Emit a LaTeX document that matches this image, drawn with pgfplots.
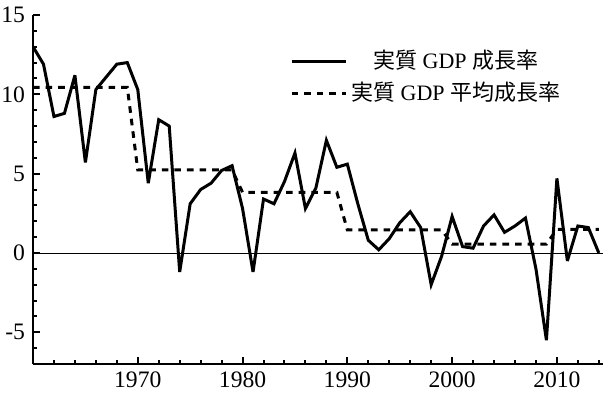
\documentclass[border=0pt]{standalone}
\usepackage{pgfplots}
\pgfplotsset{compat=1.18}
\usepackage{fontspec}
\setmainfont{Liberation Serif}
\newfontfamily\cjk{Noto Sans CJK JP}
\begin{document}
\fontsize{11.5bp}{13bp}\selectfont
\begin{tikzpicture}
\begin{axis}[
  scale only axis=true,
  width=285bp, height=174.5bp,
  xmin=1960, xmax=2014.4,
  ymin=-7, ymax=15,
  axis lines=left,
  axis line style={-, line width=1.4bp},
  tick align=inside,
  xtick={1970,1980,1990,2000,2010},
  minor xtick={1962,1964,...,2014},
  ytick={-5,0,5,10,15},
  minor ytick={-7,-6,...,15},
  major tick length=3.5bp,
  minor tick length=2bp,
  every tick/.style={black, line width=1bp},
  /pgf/number format/assume math mode=true,
  /pgf/number format/1000 sep={},
  tick label style={font=\fontsize{11.8bp}{13bp}\selectfont},
  legend style={draw=none, fill=none, at={(rel axis cs:0.44,0.8195)}, anchor=west,
    font=\fontsize{11bp}{13bp}\selectfont,
    nodes={text height=9bp, text depth=2bp, inner ysep=2.5bp, inner xsep=2bp}},
  legend cell align=center,
  legend image code/.code={\draw[#1] (0bp,0bp) -- (27bp,0bp);},
]
\coordinate (sw) at (rel axis cs:0,0);
\coordinate (ne) at (rel axis cs:1,1);
\draw[black, line width=0.45bp] (axis cs:1960,0) -- (axis cs:2014.4,0);
\addplot[black, line width=1.5bp, line join=miter, miter limit=4] coordinates {
(1960,13.0) (1961,11.9) (1962,8.6) (1963,8.8) (1964,11.2) (1965,5.7) (1966,10.3)
(1967,11.1) (1968,11.9) (1969,12.0) (1970,10.3) (1971,4.4) (1972,8.4) (1973,8.0)
(1974,-1.2) (1975,3.1) (1976,4.0) (1977,4.4) (1978,5.2) (1979,5.5) (1980,2.8)
(1981,-1.2) (1982,3.4) (1983,3.1) (1984,4.5) (1985,6.3) (1986,2.8) (1987,4.1)
(1988,7.1) (1989,5.4) (1990,5.6) (1991,3.1) (1992,0.8) (1993,0.2) (1994,0.9)
(1995,1.9) (1996,2.6) (1997,1.6) (1998,-2.0) (1999,-0.2) (2000,2.3) (2001,0.4)
(2002,0.3) (2003,1.7) (2004,2.4) (2005,1.3) (2006,1.7) (2007,2.2) (2008,-1.0)
(2009,-5.5) (2010,4.7) (2011,-0.5) (2012,1.7) (2013,1.6) (2014,0.0)
};
\addlegendentry{{\cjk 実質} GDP {\cjk 成長率}}
\addplot[black, line width=1.5bp, dash pattern=on 3.3bp off 3bp] coordinates {
(1960,10.44) (1961,10.44) (1962,10.44) (1963,10.44) (1964,10.44) (1965,10.44)
(1966,10.44) (1967,10.44) (1968,10.44) (1969,10.44)
(1970,5.23) (1971,5.23) (1972,5.23) (1973,5.23) (1974,5.23) (1975,5.23)
(1976,5.23) (1977,5.23) (1978,5.23) (1979,5.23)
(1980,3.82) (1981,3.82) (1982,3.82) (1983,3.82) (1984,3.82) (1985,3.82)
(1986,3.82) (1987,3.82) (1988,3.82) (1989,3.82)
(1990,1.45) (1991,1.45) (1992,1.45) (1993,1.45) (1994,1.45) (1995,1.45)
(1996,1.45) (1997,1.45) (1998,1.45) (1999,1.45)
(2000,0.56) (2001,0.56) (2002,0.56) (2003,0.56) (2004,0.56) (2005,0.56)
(2006,0.56) (2007,0.56) (2008,0.56) (2009,0.56)
(2010,1.49) (2011,1.49) (2012,1.49) (2013,1.49) (2014,1.49)
};
\addlegendentry{{\cjk 実質} GDP {\cjk 平均成長率}}
\end{axis}
\pgfresetboundingbox
\path ([shift={(-16.5bp,-16bp)}]sw) rectangle ([shift={(0bp,7.5bp)}]ne);
\end{tikzpicture}
\end{document}
